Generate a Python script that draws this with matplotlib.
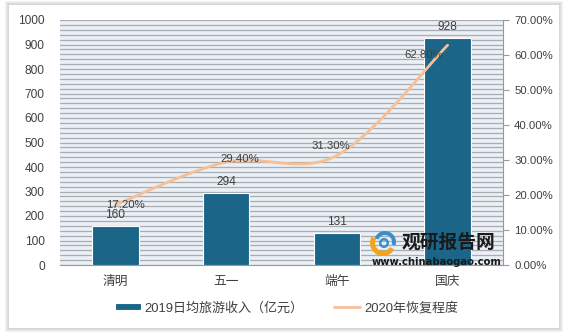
import numpy as np
import matplotlib
matplotlib.use("Agg")
import matplotlib.pyplot as plt
from matplotlib.patches import Rectangle, Wedge
from matplotlib.ticker import FuncFormatter, MultipleLocator

plt.rcParams['font.family'] = ['Liberation Sans', 'Noto Sans CJK SC', 'DejaVu Sans']

categories = ['清明', '五一', '端午', '国庆']
income_2019 = [160, 294, 131, 928]
recovery_2020 = [17.20, 29.40, 31.30, 62.80]
bar_label = '2019日均旅游收入（亿元）'
line_label = '2020年恢复程度'

BAR_COLOR = '#1b6688'
LINE_COLOR = '#f7bf96'
BG_COLOR = '#eaf0f6'
GRID_COLOR = '#a9adb2'
TEXT_COLOR = '#404040'

W, H = 567, 333
fig = plt.figure(figsize=(W / 100, H / 100), dpi=100)
fig.patch.set_facecolor('#ffffff')

# outer shadow frame + white panel
for i, g in enumerate(['#f2f2f2', '#e8e8e8', '#dedede', '#d6d6d6']):
    d = 4 - i
    fig.patches.append(Rectangle(((9 - d) / W, (333 - 328 - d) / H), (550 + 2 * d) / W, (323 + 2 * d) / H,
                                 transform=fig.transFigure, facecolor=g, edgecolor='none', zorder=-10))
fig.patches.append(Rectangle((9 / W, (333 - 328) / H), 550 / W, 323 / H,
                             transform=fig.transFigure, facecolor='white', edgecolor='none', zorder=-9))

ax = fig.add_axes([60 / W, (333 - 265) / H, 443 / W, 245 / H])
ax.set_facecolor(BG_COLOR)
x = np.arange(len(categories))

ax.set_xlim(-0.5, len(categories) - 0.5)
ax.set_ylim(0, 1000)
ax.yaxis.set_major_locator(MultipleLocator(100))
ax.yaxis.set_minor_locator(MultipleLocator(20))
ax.grid(True, which='both', axis='y', color=GRID_COLOR, lw=0.9, zorder=0)
ax.set_axisbelow(True)
for s in ['top', 'right', 'left']:
    ax.spines[s].set_visible(False)
ax.spines['bottom'].set_color('#999999')
ax.tick_params(axis='y', which='both', length=0, pad=11, labelsize=8.6, labelcolor=TEXT_COLOR)
ax.tick_params(axis='x', length=0, pad=8, labelsize=9.2, labelcolor=TEXT_COLOR)
ax.set_xticks(x)
ax.set_xticklabels(categories)

bars = ax.bar(x, income_2019, width=0.42, color=BAR_COLOR, edgecolor='white', lw=0.8, zorder=3,
              label=bar_label)
for xi, v in zip(x, income_2019):
    ax.annotate(f'{v}', (xi, v), xytext=(0, 3.5), textcoords='offset points', ha='center', va='bottom',
                fontsize=8.6, color=TEXT_COLOR, zorder=6)

ax2 = ax.twinx()
ax2.set_ylim(0, 70)
ax2.yaxis.set_major_locator(MultipleLocator(10))
ax2.yaxis.set_major_formatter(FuncFormatter(lambda v, p: f'{v:.2f}%'))
for s in ['top', 'left', 'bottom']:
    ax2.spines[s].set_visible(False)
ax2.spines['right'].set_color('#999999')
ax2.tick_params(axis='y', length=4, color='#999999', pad=4, labelsize=8.2, labelcolor=TEXT_COLOR)

# smoothed line (Catmull-Rom, like Excel smoothing)
xs = x.astype(float)
ys = np.array(recovery_2020, dtype=float)
px = np.concatenate([[xs[0]], xs, [xs[-1]]])
py = np.concatenate([[ys[0]], ys, [ys[-1]]])
cx, cy = [], []
t = np.linspace(0, 1, 40)
for i in range(1, len(px) - 2):
    p0, p1, p2, p3 = (np.array([px[j], py[j]]) for j in (i - 1, i, i + 1, i + 2))
    c1 = p1 + (p2 - p0) / 6
    c2 = p2 - (p3 - p1) / 6
    b = ((1 - t) ** 3)[:, None] * p1 + (3 * (1 - t) ** 2 * t)[:, None] * c1 + \
        (3 * (1 - t) * t ** 2)[:, None] * c2 + (t ** 3)[:, None] * p2
    cx.extend(b[:, 0]); cy.extend(b[:, 1])
line, = ax2.plot(cx, cy, color=LINE_COLOR, lw=2.0, solid_capstyle='round', zorder=4, label=line_label)

label_offsets = [(7, 0), (10, 2), (-4, 7), (-17, -7)]
for xi, v, off in zip(x, recovery_2020, label_offsets):
    ax2.annotate(f'{v:.2f}%', (xi, v), xytext=off, textcoords='offset points', ha='center', va='center',
                 fontsize=8.2, color=TEXT_COLOR, zorder=6)

# watermark
fig.text(449 / W, 1 - 242 / H, '观研报告网', fontsize=13.5, fontweight='bold', color='#1a1a1a',
         ha='center', va='center', family=['Noto Sans CJK SC'], zorder=10)
fig.text(437 / W, 1 - 262 / H, 'www.chinabaogao.com', fontsize=7.2, fontweight='bold', color='#1a1a1a',
         ha='center', va='center', family=['DejaVu Sans'], zorder=10)
cxp, cyp = 383, H - 243
fig.patches.append(Wedge((cxp, cyp), 13, 150, 330, width=5, transform=None, facecolor='#f5a31a',
                         edgecolor='none', zorder=10))
fig.patches.append(Wedge((cxp + 2, cyp + 1), 11, -20, 160, width=4, transform=None, facecolor='#3a8fc8',
                         edgecolor='none', zorder=10))
fig.patches.append(Wedge((cxp + 1, cyp), 5, 0, 360, width=2.5, transform=None, facecolor='#3a8fc8',
                         edgecolor='none', zorder=10))

leg = fig.legend([bars, line], [bar_label, line_label], loc='center', bbox_to_anchor=(0.505, 1 - 308 / H),
                 ncol=2, frameon=True, fontsize=9.4, handlelength=2.0, handleheight=0.45,
                 handletextpad=0.3, columnspacing=2.3, borderpad=0.45, fancybox=False)
leg.get_frame().set_edgecolor('#ffffff')
leg.get_frame().set_facecolor('white')
for txt in leg.get_texts():
    txt.set_color(TEXT_COLOR)

fig.savefig('out.png', dpi=100)
